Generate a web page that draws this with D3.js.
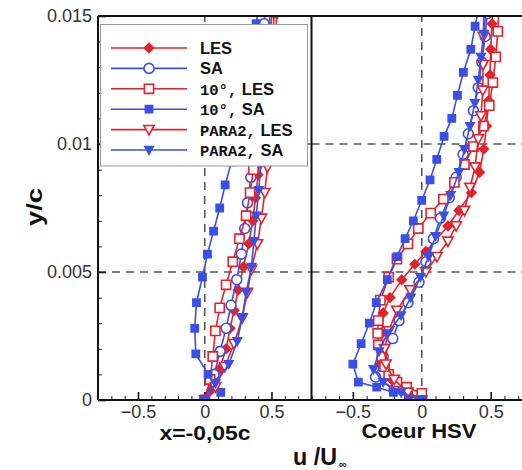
<!DOCTYPE html>
<html><head><meta charset="utf-8">
<script src="https://cdn.jsdelivr.net/npm/d3@7/dist/d3.min.js"></script>
<style>
html,body{margin:0;padding:0;background:#fff;}
svg{display:block;}
</style></head>
<body>
<svg id="chart" width="522" height="470"></svg>
<script>
// ---------- DATA ----------
const seriesNames = ["LES", "SA", "10°, LES", "10°, SA", "PARA2, LES", "PARA2, SA"];
const panelTitles = ["x=-0,05c", "Coeur HSV"];
const xTickValues = [-0.5, 0, 0.5];
const yTickValues = [0, 0.005, 0.01, 0.015];

// Panel 1 : x = -0.05c
const les_L_y   = [0,0.0004,0.0012,0.0020,0.0028,0.0035,0.0043,0.0052,0.0061,0.0070,0.0079,0.0088,0.0097,0.0106,0.0115,0.0124,0.0133,0.0142,0.0151];
const les_L_u   = [0,0.05,0.11,0.16,0.19,0.22,0.25,0.29,0.33,0.36,0.38,0.40,0.42,0.44,0.46,0.48,0.49,0.51,0.52];
const sa_L_y    = [0,0.0010,0.0019,0.0028,0.0037,0.0047,0.0057,0.0067,0.0077,0.0087,0.0097,0.0107,0.0117,0.0127,0.0137,0.0147,0.0157];
const sa_L_u    = [0,0.07,0.115,0.16,0.197,0.24,0.275,0.30,0.32,0.345,0.365,0.385,0.40,0.415,0.43,0.445,0.46];
const les10_L_y = [0,0.0008,0.0017,0.0027,0.0036,0.0045,0.0054,0.0063,0.0072,0.0081,0.0090,0.0099,0.0108,0.0117,0.0126,0.0135,0.0144,0.0153];
const les10_L_u = [0,0.04,0.06,0.08,0.112,0.16,0.21,0.26,0.31,0.34,0.365,0.39,0.41,0.43,0.45,0.47,0.49,0.51];
const sa10_L_y  = [0.0003,0.0010,0.0018,0.0028,0.0038,0.0048,0.0057,0.0066,0.0075,0.0084,0.0093,0.0102,0.0111,0.0120,0.0129,0.0138,0.0147,0.0156];
const sa10_L_u  = [0.12,0.025,-0.067,-0.075,-0.062,-0.017,0.02,0.066,0.112,0.153,0.2,0.24,0.28,0.31,0.34,0.365,0.385,0.41];
const lesP2_L_y = [0,0.0005,0.0013,0.0022,0.0032,0.0042,0.0051,0.0061,0.0071,0.0081,0.0091,0.0101,0.0111,0.0121,0.0131,0.0141,0.0151];
const lesP2_L_u = [0,0.08,0.15,0.22,0.28,0.32,0.35,0.395,0.425,0.45,0.47,0.49,0.50,0.51,0.52,0.53,0.54];
const saP2_L_y  = [0,0.00065,0.0014,0.0023,0.0032,0.0042,0.0052,0.0062,0.0072,0.0082,0.0092,0.0102,0.0112,0.0122,0.0132,0.0142,0.0152];
const saP2_L_u  = [0,0.08,0.18,0.244,0.28,0.31,0.35,0.368,0.386,0.405,0.42,0.435,0.45,0.46,0.47,0.48,0.49];

// Panel 2 : Coeur HSV
const les_R_y   = [0,0.0003,0.0008,0.0014,0.0020,0.0026,0.0034,0.0040,0.0047,0.0053,0.0058,0.0068,0.0074,0.0081,0.0089,0.0098,0.0107,0.0117,0.0127,0.0137,0.0147,0.0156];
const les_R_u   = [0,-0.1,-0.22,-0.30,-0.30,-0.29,-0.28,-0.23,-0.145,-0.05,0.03,0.19,0.27,0.36,0.42,0.45,0.47,0.485,0.495,0.50,0.51,0.515];
const sa_R_y    = [0,0.0004,0.0009,0.0017,0.0024,0.0031,0.0038,0.0046,0.0054,0.0063,0.0071,0.0079,0.0087,0.0096,0.0104,0.0113,0.0122,0.0132,0.0142,0.0151];
const sa_R_u    = [0,-0.2,-0.335,-0.28,-0.21,-0.165,-0.1,-0.02,0.03,0.085,0.135,0.2,0.25,0.3,0.338,0.375,0.41,0.436,0.46,0.475];
const les10_R_y = [0,0.00026,0.0005,0.0007,0.0010,0.0013,0.0017,0.00215,0.0026,0.0031,0.0039,0.0048,0.0055,0.0061,0.0067,0.0073,0.00785,0.0085,0.0092,0.0099,0.0107,0.0115,0.0124,0.0134,0.0144,0.0153];
const les10_R_u = [0,0.0,-0.11,-0.18,-0.24,-0.27,-0.29,-0.315,-0.32,-0.315,-0.30,-0.24,-0.18,-0.10,-0.025,0.065,0.157,0.237,0.31,0.375,0.447,0.49,0.516,0.537,0.552,0.56];
const sa10_R_y  = [0,0.00016,0.0003,0.0005,0.0007,0.0014,0.0022,0.0030,0.0038,0.0047,0.0056,0.0063,0.0070,0.0078,0.0086,0.0094,0.0103,0.0110,0.0119,0.0128,0.0137,0.0146,0.0155];
const sa10_R_u  = [0,-0.097,-0.206,-0.327,-0.46,-0.50,-0.44,-0.38,-0.33,-0.25,-0.18,-0.121,-0.061,0,0.06,0.109,0.162,0.218,0.259,0.302,0.356,0.387,0.42];
const lesP2_R_y = [0,0.0003,0.0008,0.0014,0.0020,0.0027,0.0035,0.0043,0.0050,0.0056,0.0062,0.0068,0.0074,0.0083,0.0091,0.0102,0.0111,0.0121,0.0131,0.0142,0.0152];
const lesP2_R_u = [0,-0.1,-0.2,-0.26,-0.27,-0.24,-0.18,-0.085,0.03,0.11,0.19,0.25,0.31,0.35,0.387,0.41,0.43,0.443,0.445,0.447,0.45];
const saP2_R_y  = [0,0.0003,0.0007,0.0012,0.0019,0.0026,0.0033,0.0040,0.0048,0.0056,0.0064,0.0072,0.0080,0.0089,0.0098,0.0107,0.0116,0.0125,0.0134,0.0143,0.0152];
const saP2_R_u  = [0,-0.15,-0.28,-0.35,-0.31,-0.25,-0.15,-0.08,-0.01,0.05,0.1,0.16,0.21,0.27,0.31,0.35,0.385,0.41,0.43,0.45,0.465];

// ---------- STYLE ----------
const RED = "#e3232b", BLUE = "#3a4fe6";
const styles = [
  {color: RED,  shape: "diamond", filled: true},
  {color: BLUE, shape: "circle",  filled: false},
  {color: RED,  shape: "square",  filled: false},
  {color: BLUE, shape: "square",  filled: true},
  {color: RED,  shape: "tri",     filled: false},
  {color: BLUE, shape: "tri",     filled: true}
];
const panels = [
  {title: panelTitles[0], range: [98, 311.5],
   series: [[les_L_u,les_L_y],[sa_L_u,sa_L_y],[les10_L_u,les10_L_y],[sa10_L_u,sa10_L_y],[lesP2_L_u,lesP2_L_y],[saP2_L_u,saP2_L_y]]},
  {title: panelTitles[1], range: [311.5, 532],
   series: [[les_R_u,les_R_y],[sa_R_u,sa_R_y],[les10_R_u,les10_R_y],[sa10_R_u,sa10_R_y],[lesP2_R_u,lesP2_R_y],[saP2_R_u,saP2_R_y]]}
];

const SANS = "'Liberation Sans', Arial, sans-serif";
const MONO = "'Liberation Mono', 'Courier New', monospace";

function markerPath(shape, filled) {
  if (shape === "diamond") { const r = 4.6; return `M0,${-r}L${r},0L0,${r}L${-r},0Z`; }
  if (shape === "circle") { const r = 5; return `M${r},0A${r},${r} 0 1,1 ${-r},0A${r},${r} 0 1,1 ${r},0Z`; }
  if (shape === "square") { const h = filled ? 3.6 : 4.6; return `M${-h},${-h}H${h}V${h}H${-h}Z`; }
  if (shape === "tri") { const w = filled ? 4.2 : 5.2; return `M${-w},${-w*0.8}L${w},${-w*0.8}L0,${w}Z`; }
}

const svg = d3.select("#chart");
const y = d3.scaleLinear().domain([0, 0.015]).range([400, 16]);

panels.forEach((p, pi) => {
  const x = d3.scaleLinear().domain([-0.8, 0.8]).range(p.range);
  const clipId = "clip" + pi;
  svg.append("clipPath").attr("id", clipId).append("rect")
    .attr("x", p.range[0]).attr("y", 16).attr("width", p.range[1] - p.range[0]).attr("height", 384);

  // dashed reference lines
  const g0 = svg.append("g").attr("clip-path", `url(#${clipId})`);
  [0.005, 0.01].forEach(v => g0.append("line")
    .attr("x1", p.range[0]).attr("x2", p.range[1]).attr("y1", y(v)).attr("y2", y(v))
    .attr("stroke", "#555").attr("stroke-width", 1.6).attr("stroke-dasharray", "8,6"));
  g0.append("line").attr("x1", x(0)).attr("x2", x(0)).attr("y1", 400).attr("y2", 16)
    .attr("stroke", "#555").attr("stroke-width", 1.6).attr("stroke-dasharray", "8,6");

  // minor x ticks
  const minor = d3.range(-8, 9).map(d => d / 10).filter(d => !xTickValues.some(t => Math.abs(t - d) < 1e-9));
  svg.append("g").attr("transform", "translate(0,400)")
    .call(d3.axisBottom(x).tickValues(minor).tickSizeInner(-4).tickSizeOuter(0).tickFormat(""))
    .call(g => g.select(".domain").remove())
    .call(g => g.selectAll("line").attr("stroke", "#222").attr("stroke-width", 1));
  // major x ticks
  svg.append("g").attr("transform", "translate(0,400)")
    .call(d3.axisBottom(x).tickValues(xTickValues).tickSizeInner(-8).tickSizeOuter(0).tickPadding(5)
      .tickFormat(d => d === 0 ? "0" : d3.format(".1f")(d)))
    .call(g => g.select(".domain").remove())
    .call(g => g.selectAll("line").attr("stroke", "#111").attr("stroke-width", 1.6))
    .call(g => g.selectAll("text").attr("font-family", SANS).attr("font-size", 18).attr("fill", "#333"));

  // series
  const g = svg.append("g").attr("clip-path", `url(#${clipId})`);
  p.series.forEach((s, si) => {
    const st = styles[si];
    const pts = s[0].map((u, i) => [u, s[1][i]]);
    g.append("path").datum(pts)
      .attr("d", d3.line().x(d => x(d[0])).y(d => y(d[1])))
      .attr("fill", "none").attr("stroke", st.color).attr("stroke-width", 1.6);
    g.selectAll(null).data(pts).enter().append("path")
      .attr("transform", d => `translate(${x(d[0])},${y(d[1])})`)
      .attr("d", markerPath(st.shape, st.filled))
      .attr("fill", st.filled ? st.color : "#fff")
      .attr("stroke", st.color).attr("stroke-width", 1.6);
  });

  // panel title
  const centers = [205, 419];
  const lens = [91, 115];
  svg.append("text").attr("x", centers[pi]).attr("y", pi === 0 ? 440 : 438)
    .attr("text-anchor", "middle").attr("font-family", SANS).attr("font-weight", "bold")
    .attr("font-size", 20).attr("fill", "#111")
    .attr("textLength", lens[pi]).attr("lengthAdjust", "spacingAndGlyphs")
    .text(p.title);
});

// y axis (left panel)
const yMinor = d3.range(0, 16).map(d => d / 1000).filter(d => !yTickValues.some(t => Math.abs(t - d) < 1e-9));
svg.append("g").attr("transform", "translate(98,0)")
  .call(d3.axisLeft(y).tickValues(yMinor).tickSizeInner(-4).tickSizeOuter(0).tickFormat(""))
  .call(g => g.select(".domain").remove())
  .call(g => g.selectAll("line").attr("stroke", "#222").attr("stroke-width", 1));
svg.append("g").attr("transform", "translate(98,0)")
  .call(d3.axisLeft(y).tickValues(yTickValues).tickSizeInner(-8).tickSizeOuter(0).tickPadding(6)
    .tickFormat(d => d === 0 ? "0" : String(+d.toFixed(3))))
  .call(g => g.select(".domain").remove())
  .call(g => g.selectAll("line").attr("stroke", "#111").attr("stroke-width", 1.6))
  .call(g => g.selectAll("text").attr("font-family", SANS).attr("font-size", 18).attr("fill", "#333"));

// frame
const frame = svg.append("g").attr("fill", "none").attr("stroke", "#111").attr("stroke-width", 2);
frame.append("line").attr("x1", 98).attr("x2", 532).attr("y1", 16).attr("y2", 16);
frame.append("line").attr("x1", 98).attr("x2", 532).attr("y1", 400).attr("y2", 400);
frame.append("line").attr("x1", 98).attr("x2", 98).attr("y1", 16).attr("y2", 400);
frame.append("line").attr("x1", 311.5).attr("x2", 311.5).attr("y1", 16).attr("y2", 400);

// legend
const lg = svg.append("g");
lg.append("rect").attr("x", 100.5).attr("y", 24.5).attr("width", 207).attr("height", 141.5)
  .attr("fill", "#fff").attr("stroke", "#999").attr("stroke-width", 1);
seriesNames.forEach((name, i) => {
  const st = styles[i];
  const ry = 48 + i * 20.4;
  lg.append("line").attr("x1", 111).attr("x2", 187).attr("y1", ry).attr("y2", ry)
    .attr("stroke", st.color).attr("stroke-width", 1.6);
  lg.append("path").attr("transform", `translate(149,${ry})`)
    .attr("d", markerPath(st.shape, st.filled))
    .attr("fill", st.filled ? st.color : "#fff").attr("stroke", st.color).attr("stroke-width", 1.6);
  const t = lg.append("text").attr("x", 200).attr("y", ry + 6).attr("fill", "#111")
    .attr("font-weight", "bold");
  const idx = name.lastIndexOf(", ");
  if (idx >= 0) {
    t.append("tspan").attr("font-family", MONO).attr("font-size", 15.5).text(name.slice(0, idx + 1));
    t.append("tspan").attr("font-family", SANS).attr("font-size", 16.5).text(" " + name.slice(idx + 2));
  } else {
    t.append("tspan").attr("font-family", SANS).attr("font-size", 16.5).text(name);
  }
});

// axis titles
svg.append("text").attr("transform", "translate(42,207) rotate(-90)")
  .attr("text-anchor", "middle").attr("font-family", SANS).attr("font-weight", "bold")
  .attr("font-size", 22).attr("fill", "#111")
  .attr("textLength", 38).attr("lengthAdjust", "spacingAndGlyphs").text("y/c");
const ut = svg.append("text").attr("x", 293).attr("y", 465)
  .attr("font-family", SANS).attr("font-weight", "bold").attr("fill", "#111");
ut.append("tspan").attr("font-size", 23).attr("textLength", 44).attr("lengthAdjust", "spacingAndGlyphs").text("u /U");
ut.append("tspan").attr("font-size", 11).attr("dy", 3).attr("dx", 2).text("∞");
</script>
</body></html>
